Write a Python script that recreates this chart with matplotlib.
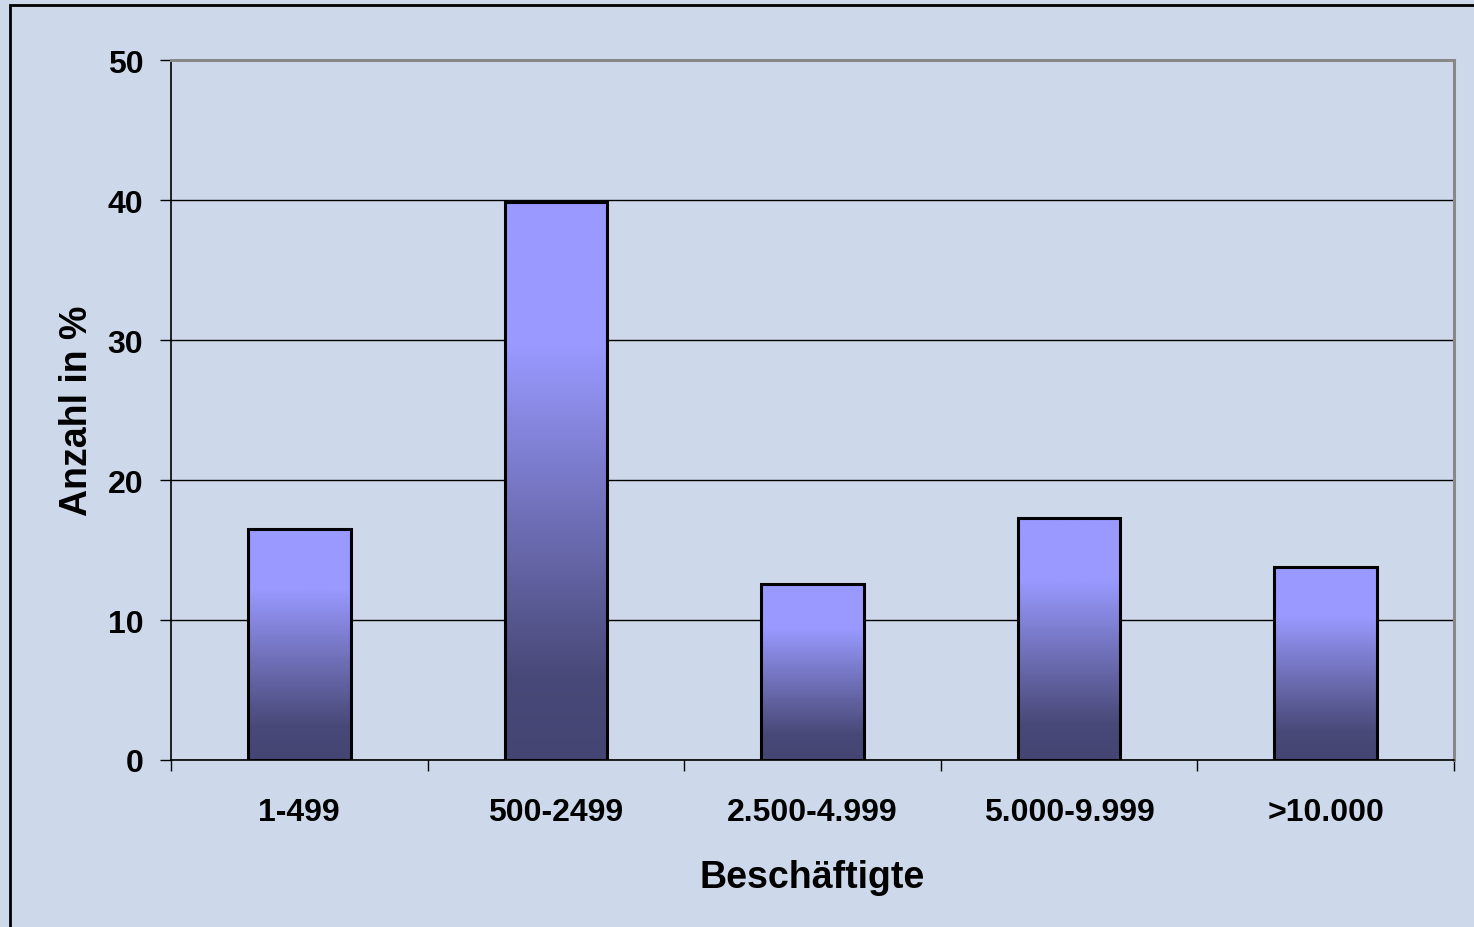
import numpy as np
import matplotlib.pyplot as plt
from matplotlib.patches import Rectangle
from matplotlib.colors import LinearSegmentedColormap

plt.rcParams['font.family'] = ['Liberation Sans', 'DejaVu Sans']
plt.rcParams['font.weight'] = 'bold'

categories = ['1-499', '500-2499', '2.500-4.999', '5.000-9.999', '>10.000']
values = [16.5, 39.9, 12.6, 17.3, 13.8]

BG = '#cdd9ea'
CMAP = LinearSegmentedColormap.from_list(
    'bar', [(0.0, '#454574'), (0.15, '#494979'), (0.47, '#7474c0'), (0.74, '#9999ff'), (1.0, '#9999ff')])


def plot():
    fig = plt.figure(figsize=(14.74, 9.28), dpi=100, facecolor=BG)
    ax = fig.add_axes([0.116, 0.18, 0.8705, 0.754])
    ax.set_facecolor(BG)

    x = np.arange(len(categories))
    WIDTH = 0.4

    ax.grid(True, axis='y', color='#000', linewidth=1.0)
    ax.set_axisbelow(True)

    bars = ax.bar(x, values, width=WIDTH, color='none', edgecolor='#000', linewidth=2.2, zorder=3)
    grad = np.linspace(0, 1, 256).reshape(-1, 1)
    for b in bars:
        x0, y0 = b.get_x(), b.get_y()
        w, h = b.get_width(), b.get_height()
        im = ax.imshow(grad, cmap=CMAP, origin='lower', aspect='auto',
                       extent=[x0, x0 + w, y0, y0 + h], zorder=2)
        im.set_clip_path(b)
    ax.set_xlim(-0.5, len(categories) - 0.5)
    ax.set_ylim(0, 50)
    ax.set_yticks([0, 10, 20, 30, 40, 50])

    # ticks at category boundaries, labels in the middle
    ax.set_xticks(np.arange(len(categories) + 1) - 0.5, minor=False)
    ax.set_xticklabels([])
    ax.set_xticks(x, minor=True)
    ax.set_xticklabels(categories, minor=True, fontsize=23, fontweight='bold')
    ax.tick_params(axis='x', which='major', direction='out', length=8, width=1, color='#000')
    ax.tick_params(axis='x', which='minor', length=0, pad=27)
    ax.tick_params(axis='y', direction='out', length=8, width=1, labelsize=23, pad=12)

    for side in ['left', 'bottom']:
        ax.spines[side].set_color('#000')
        ax.spines[side].set_linewidth(1.2)
    for side in ['top', 'right']:
        ax.spines[side].set_color('#888')
        ax.spines[side].set_linewidth(2.2)

    ax.set_xlabel('Beschäftigte', fontsize=27, fontweight='bold', labelpad=23)
    ax.set_ylabel('Anzahl in %', fontsize=27, fontweight='bold', labelpad=9)

    fig.patches.append(Rectangle((10 / 1474, -0.01), 1.02, 1 - 6 / 928 + 0.01,
                                 transform=fig.transFigure, fill=False,
                                 edgecolor='#000', linewidth=2))

    fig.savefig('out.png', dpi=100, facecolor=BG)


plot()
